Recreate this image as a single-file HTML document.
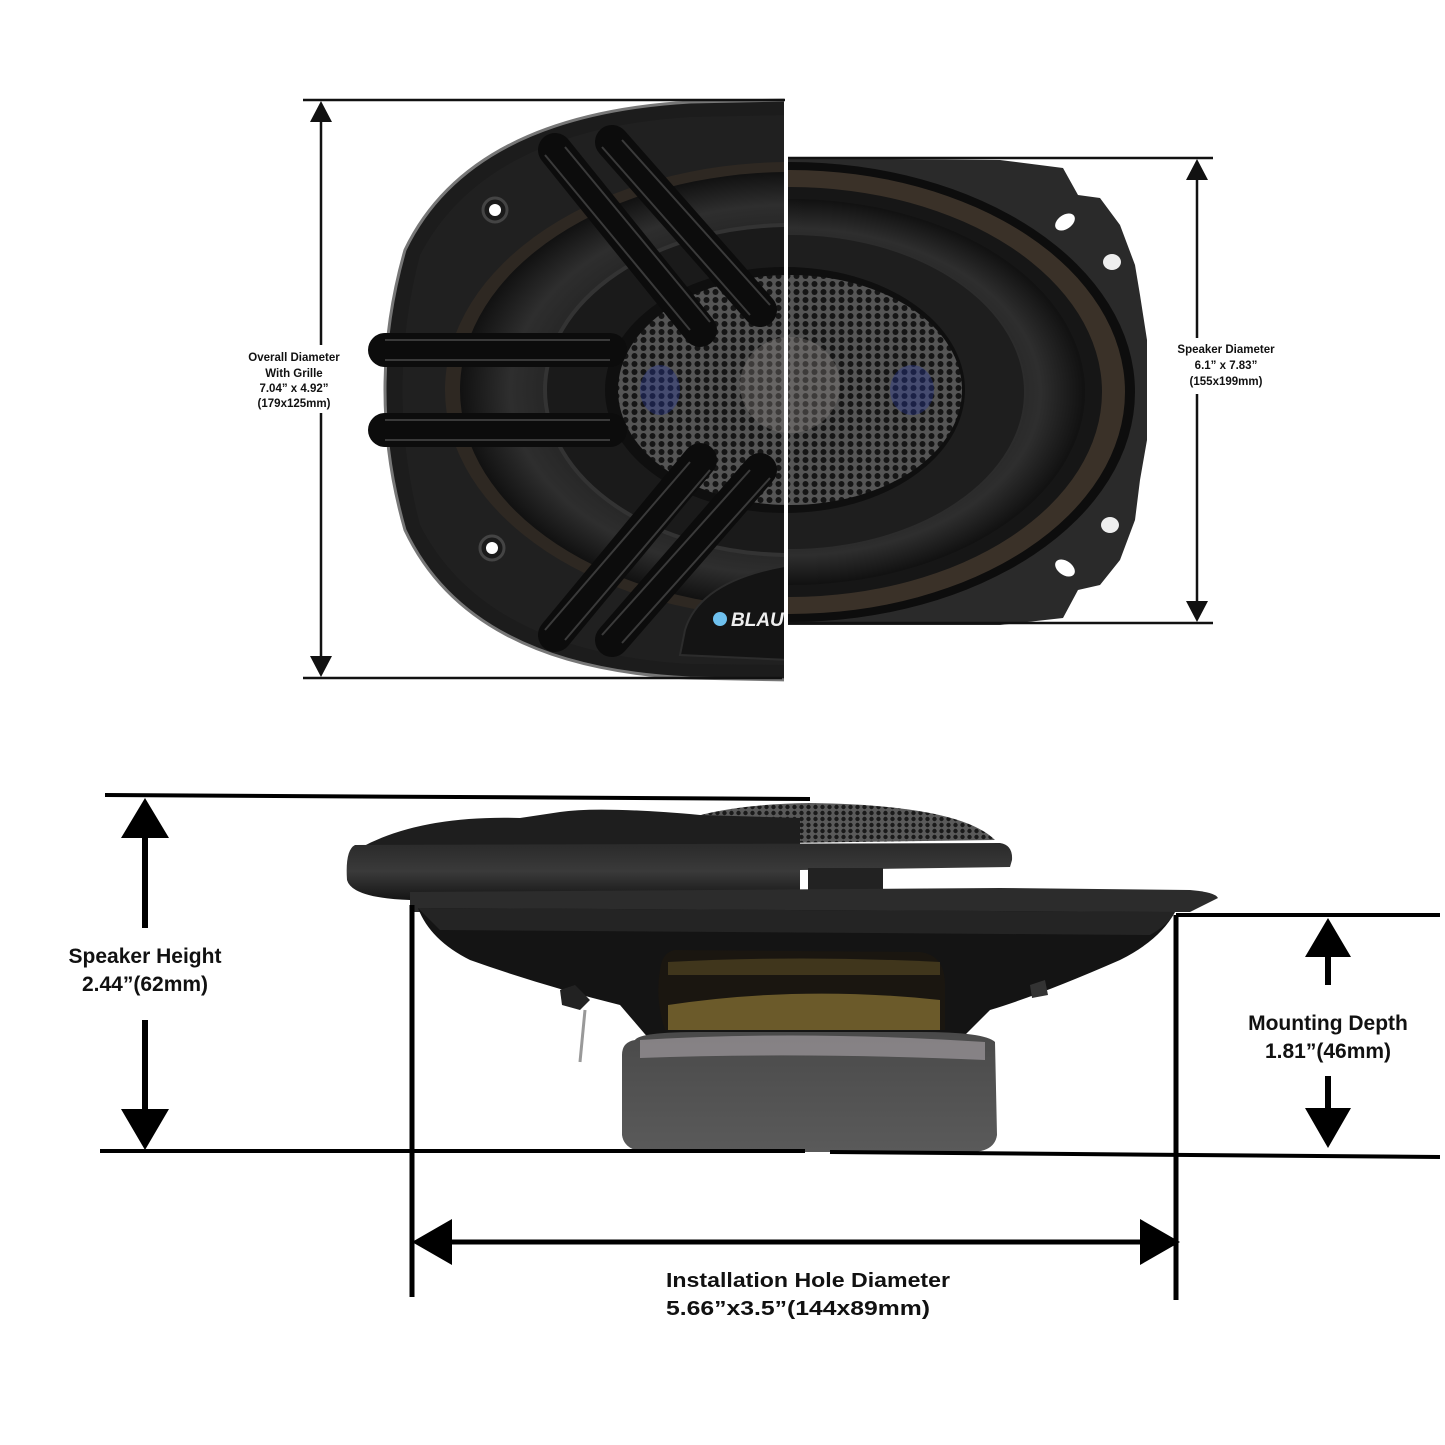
<!DOCTYPE html>
<html><head><meta charset="utf-8"><style>
html,body{margin:0;padding:0;background:#fff}
svg{display:block}
text{font-family:"Liberation Sans",Arial,sans-serif;font-weight:bold;fill:#111}
</style></head><body>
<svg width="1445" height="1445" viewBox="0 0 1445 1445" xmlns="http://www.w3.org/2000/svg">
<defs>
<pattern id="hex" width="9" height="8" patternUnits="userSpaceOnUse">
<rect width="9" height="8" fill="#555"/>
<circle cx="4.5" cy="4" r="3" fill="#151515"/>
</pattern>
<pattern id="hex2" width="7" height="6" patternUnits="userSpaceOnUse">
<rect width="7" height="6" fill="#5a5a5a"/>
<circle cx="3.5" cy="3" r="2.2" fill="#1a1a1a"/>
</pattern>
<clipPath id="cl"><rect x="0" y="0" width="784" height="700"/></clipPath>
<clipPath id="cr"><rect x="788" y="0" width="700" height="700"/></clipPath>
<radialGradient id="cone" cx="0.5" cy="0.5" r="0.5">
<stop offset="0.55" stop-color="#1a1a1a"/><stop offset="0.85" stop-color="#2e2e2e"/><stop offset="1" stop-color="#111"/>
</radialGradient>
<linearGradient id="mag" x1="0" y1="0" x2="0" y2="1">
<stop offset="0" stop-color="#4a4a4a"/><stop offset="1" stop-color="#5a5a5a"/>
</linearGradient>
<linearGradient id="rim" x1="0" y1="0" x2="0" y2="1">
<stop offset="0" stop-color="#2a2a2a"/><stop offset="0.5" stop-color="#3a3a3a"/><stop offset="1" stop-color="#151515"/>
</linearGradient>
</defs>

<!-- ===== TOP: left half (grille) ===== -->
<g clip-path="url(#cl)">
<path d="M790,100 L690,102 Q470,115 405,250 Q365,390 405,530 Q470,668 690,678 L790,680 Z" fill="#1c1c1c" stroke="#777" stroke-width="3"/>
<path d="M790,115 L690,117 Q485,130 420,255 Q385,390 420,525 Q485,652 690,664 L790,665 Z" fill="#202020"/>
<ellipse cx="790" cy="390" rx="345" ry="228" fill="#2e2822"/>
<ellipse cx="790" cy="390" rx="330" ry="218" fill="url(#cone)"/>
<ellipse cx="790" cy="390" rx="245" ry="165" fill="#1a1a1a" stroke="#333" stroke-width="4"/>
<ellipse cx="785" cy="390" rx="180" ry="123" fill="#0f0f0f"/>
<ellipse cx="790" cy="390" rx="172" ry="115" fill="url(#hex)"/>
<ellipse cx="790" cy="385" rx="50" ry="48" fill="#8a8580" opacity="0.35"/>
<ellipse cx="660" cy="390" rx="20" ry="25" fill="#2838a0" opacity="0.35"/>
<!-- spokes -->
<g stroke="#0c0c0c" stroke-linecap="round" fill="none">
<path d="M555,150 L700,330" stroke-width="34"/>
<path d="M612,142 L760,310" stroke-width="34"/>
<path d="M385,350 L610,350 M385,430 L610,430" stroke-width="34"/>
<path d="M555,635 L700,460" stroke-width="34"/>
<path d="M612,640 L760,470" stroke-width="34"/>
</g>
<g stroke="#3a3a3a" stroke-width="2" fill="none">
<path d="M545,155 L690,330 M565,147 L710,322 M602,147 L750,315 M622,140 L770,305"/>
<path d="M385,340 L610,340 M385,360 L610,360 M385,420 L610,420 M385,440 L610,440"/>
<path d="M545,630 L690,462 M565,640 L710,470 M602,635 L750,470 M622,643 L770,478"/>
</g>
<circle cx="495" cy="210" r="12" fill="#1a1a1a" stroke="#444" stroke-width="3"/><circle cx="495" cy="210" r="6" fill="#fff"/>
<circle cx="492" cy="548" r="12" fill="#1a1a1a" stroke="#444" stroke-width="3"/><circle cx="492" cy="548" r="6" fill="#fff"/>
<path d="M685,630 Q700,580 790,565 L790,660 L680,655 Z" fill="#141414" stroke="#2c2c2c" stroke-width="2"/>
<circle cx="720" cy="619" r="7" fill="#6ec0ee"/>
<text x="731" y="626" font-size="19" font-style="italic" style="fill:#eee">BLAU</text>
</g>

<!-- ===== TOP: right half (no grille) ===== -->
<g clip-path="url(#cr)">
<path d="M780,158 L1000,160 L1063,168 L1078,195 L1100,198 L1120,225 L1135,265 L1140,295 L1147,340 L1147,440 L1140,480 L1135,520 L1120,560 L1100,585 L1078,590 L1063,618 L1000,625 L780,625 Z" fill="#2a2a2a"/>
<ellipse cx="1065" cy="222" rx="11" ry="7" fill="#fff" transform="rotate(-35 1065 222)"/>
<ellipse cx="1112" cy="262" rx="9" ry="8" fill="#eee"/>
<ellipse cx="1110" cy="525" rx="9" ry="8" fill="#eee"/>
<ellipse cx="1065" cy="568" rx="11" ry="7" fill="#fff" transform="rotate(35 1065 568)"/>
<ellipse cx="790" cy="392" rx="345" ry="230" fill="#0d0d0d"/>
<ellipse cx="790" cy="392" rx="335" ry="222" fill="#3a3128"/>
<ellipse cx="790" cy="392" rx="312" ry="205" fill="#161616"/>
<ellipse cx="790" cy="392" rx="295" ry="193" fill="url(#cone)"/>
<ellipse cx="790" cy="392" rx="235" ry="158" fill="#1e1e1e" stroke="#2c2c2c" stroke-width="2"/>
<ellipse cx="785" cy="390" rx="180" ry="123" fill="#0f0f0f"/>
<ellipse cx="790" cy="390" rx="172" ry="115" fill="url(#hex)"/>
<ellipse cx="790" cy="385" rx="50" ry="48" fill="#8a8580" opacity="0.35"/>
<ellipse cx="912" cy="390" rx="22" ry="25" fill="#2838a0" opacity="0.35"/>
</g>

<!-- top dimension lines -->
<g stroke="#111" stroke-width="2.5">
<line x1="303" y1="100" x2="785" y2="100"/>
<line x1="303" y1="678" x2="782" y2="678"/>
<line x1="321" y1="118" x2="321" y2="345"/>
<line x1="321" y1="413" x2="321" y2="660"/>
<line x1="788" y1="158" x2="1213" y2="158"/>
<line x1="788" y1="623" x2="1213" y2="623"/>
<line x1="1197" y1="176" x2="1197" y2="338"/>
<line x1="1197" y1="394" x2="1197" y2="605"/>
</g>
<path d="M321,101 L310,122 L332,122 Z M321,677 L310,656 L332,656 Z M1197,159 L1186,180 L1208,180 Z M1197,622 L1186,601 L1208,601 Z" fill="#111"/>
<g font-size="11.5" text-anchor="middle">
<text x="294" y="361">Overall Diameter</text>
<text x="294" y="377">With Grille</text>
<text x="294" y="392">7.04” x 4.92”</text>
<text x="294" y="407">(179x125mm)</text>
<text x="1226" y="353">Speaker Diameter</text>
<text x="1226" y="369">6.1” x 7.83”</text>
<text x="1226" y="385">(155x199mm)</text>
</g>

<!-- ===== BOTTOM: side view ===== -->
<!-- grille/dome -->
<path d="M640,845 Q680,805 810,803 Q960,805 995,840 Z" fill="url(#hex2)"/>
<path d="M360,848 Q420,815 520,818 L560,812 Q600,806 700,815 L800,818 L800,850 L360,850 Z" fill="#1e1e1e"/>
<!-- rim -->
<path d="M355,845 L1000,843 Q1013,845 1012,860 L1010,867 L800,870 L800,895 L410,900 Q352,898 347,880 Q345,850 355,845 Z" fill="url(#rim)"/>
<rect x="808" y="868" width="75" height="25" fill="#222"/>
<!-- basket flange -->
<path d="M410,892 L1000,888 L1190,890 Q1215,892 1218,898 L1190,912 L410,912 Z" fill="#2c2c2c"/>
<!-- cone body -->
<path d="M418,908 L1175,912 Q1160,940 1120,960 Q1040,995 990,1010 L960,1040 L650,1040 L620,1005 Q540,985 470,960 Q430,940 418,908 Z" fill="#141414"/>
<path d="M418,908 L1175,912 Q1168,925 1150,935 L440,930 Z" fill="#242424"/>
<!-- window -->
<path d="M675,950 L920,952 Q945,955 945,985 L945,1030 L665,1030 Q655,1000 660,970 Q662,952 675,950 Z" fill="#1a1610"/>
<path d="M668,1005 Q800,985 940,1000 L940,1030 L668,1030 Z" fill="#6b5a2a"/>
<path d="M668,962 Q800,955 940,962 L940,975 L668,975 Z" fill="#5a4d25" opacity="0.6"/>
<!-- terminals -->
<path d="M560,990 L575,985 L590,1000 L580,1010 L562,1005 Z" fill="#222"/>
<path d="M585,1010 L580,1062" stroke="#999" stroke-width="3"/>
<path d="M1030,985 L1045,980 L1048,995 L1032,998 Z" fill="#333"/>
<!-- magnet -->
<path d="M635,1040 Q640,1032 700,1032 L920,1032 Q985,1032 995,1042 L997,1135 Q995,1150 975,1152 L645,1152 Q624,1150 622,1135 L622,1055 Q622,1042 635,1040 Z" fill="url(#mag)"/>
<path d="M640,1040 Q800,1030 985,1042 L985,1060 Q800,1052 640,1058 Z" fill="#b7aeb5" opacity="0.55"/>

<!-- bottom dimension lines -->
<g stroke="#000">
<line x1="105" y1="795" x2="810" y2="799" stroke-width="4"/>
<line x1="100" y1="1151" x2="805" y2="1151" stroke-width="4"/>
<line x1="830" y1="1152" x2="1440" y2="1157" stroke-width="4"/>
<line x1="1176" y1="915" x2="1440" y2="915" stroke-width="4"/>
<line x1="145" y1="836" x2="145" y2="928" stroke-width="6"/>
<line x1="145" y1="1020" x2="145" y2="1112" stroke-width="6"/>
<line x1="1328" y1="955" x2="1328" y2="985" stroke-width="6"/>
<line x1="1328" y1="1076" x2="1328" y2="1110" stroke-width="6"/>
<line x1="412" y1="905" x2="412" y2="1297" stroke-width="5"/>
<line x1="1176" y1="915" x2="1176" y2="1300" stroke-width="5"/>
<line x1="448" y1="1242" x2="1145" y2="1242" stroke-width="5"/>
</g>
<path d="M145,798 L121,838 L169,838 Z M145,1150 L121,1109 L169,1109 Z M1328,918 L1305,957 L1351,957 Z M1328,1148 L1305,1108 L1351,1108 Z M412,1242 L452,1219 L452,1265 Z M1180,1242 L1140,1219 L1140,1265 Z" fill="#000"/>
<g font-size="21" text-anchor="middle">
<text x="145" y="963">Speaker Height</text>
<text x="145" y="991">2.44”(62mm)</text>
<text x="1328" y="1030">Mounting Depth</text>
<text x="1328" y="1058">1.81”(46mm)</text>
<text x="808" y="1287" font-size="20" textLength="284" lengthAdjust="spacingAndGlyphs">Installation Hole Diameter</text>
<text x="798" y="1315" font-size="20" textLength="264" lengthAdjust="spacingAndGlyphs">5.66”x3.5”(144x89mm)</text>
</g>
</svg>
</body></html>
